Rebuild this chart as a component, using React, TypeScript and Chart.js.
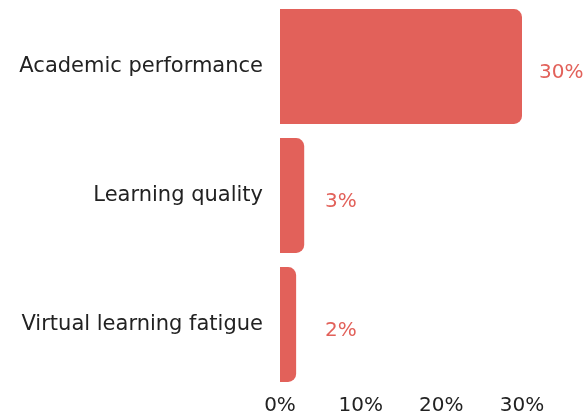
import React, { useEffect, useRef } from "react";
import { Chart, registerables } from "chart.js";

Chart.register(...registerables);

const categories = ["Academic performance", "Learning quality", "Virtual learning fatigue"];
const values = [30, 3, 2];
const tickValues = [0, 10, 20, 30];

const BAR_COLOR = "#E2615A";
const FONT = "'DejaVu Sans', sans-serif";

const valueLabels = {
  id: "valueLabels",
  afterDatasetsDraw(chart: any) {
    const ctx = chart.ctx;
    const meta = chart.getDatasetMeta(0);
    const base = chart.scales.x.getPixelForValue(0);
    ctx.save();
    ctx.fillStyle = BAR_COLOR;
    ctx.font = `20px ${FONT}`;
    ctx.textAlign = "left";
    ctx.textBaseline = "middle";
    meta.data.forEach((bar: any, i: number) => {
      const x = Math.max(bar.x + 17, base + 45);
      ctx.fillText(values[i] + "%", x, bar.y + 6);
    });
    ctx.restore();
  },
};

export default function App() {
  const ref = useRef<HTMLCanvasElement>(null);
  useEffect(() => {
    const chart = new Chart(ref.current!, {
      type: "bar",
      data: {
        labels: categories,
        datasets: [
          {
            data: values,
            backgroundColor: BAR_COLOR,
            borderRadius: 8,
            borderSkipped: "start",
            categoryPercentage: 1,
            barPercentage: 0.89,
          },
        ],
      },
      options: {
        indexAxis: "y",
        animation: false,
        responsive: false,
        layout: { padding: { top: 2, right: 66, left: 0, bottom: 0 } },
        plugins: { legend: { display: false }, tooltip: { enabled: false } },
        scales: {
          x: {
            min: 0,
            max: 30,
            afterBuildTicks: (s: any) => {
              s.ticks = tickValues.map((v) => ({ value: v }));
            },
            afterFit: (s: any) => {
              s.height = 29;
              s.paddingLeft = 0;
              s.paddingRight = 0;
            },
            grid: { display: false, drawTicks: false },
            border: { display: false },
            ticks: {
              color: "#222",
              font: { family: FONT, size: 20 },
              padding: 5,
              maxRotation: 0,
              callback: (v: any) => v + "%",
            },
          },
          y: {
            afterFit: (s: any) => {
              s.width = 280;
              s.paddingTop = 0;
              s.paddingBottom = 0;
            },
            grid: { display: false, drawTicks: false },
            border: { display: false },
            ticks: {
              color: "#222",
              font: { family: FONT, size: 21 },
              padding: 17,
            },
          },
        },
      },
      plugins: [valueLabels],
    });
    return () => chart.destroy();
  }, []);
  return (
    <div style={{ position: "fixed", left: 0, top: 0, width: 588, height: 418, background: "#fff" }}>
      <canvas ref={ref} width={588} height={418} style={{ width: 588, height: 418 }} />
    </div>
  );
}
